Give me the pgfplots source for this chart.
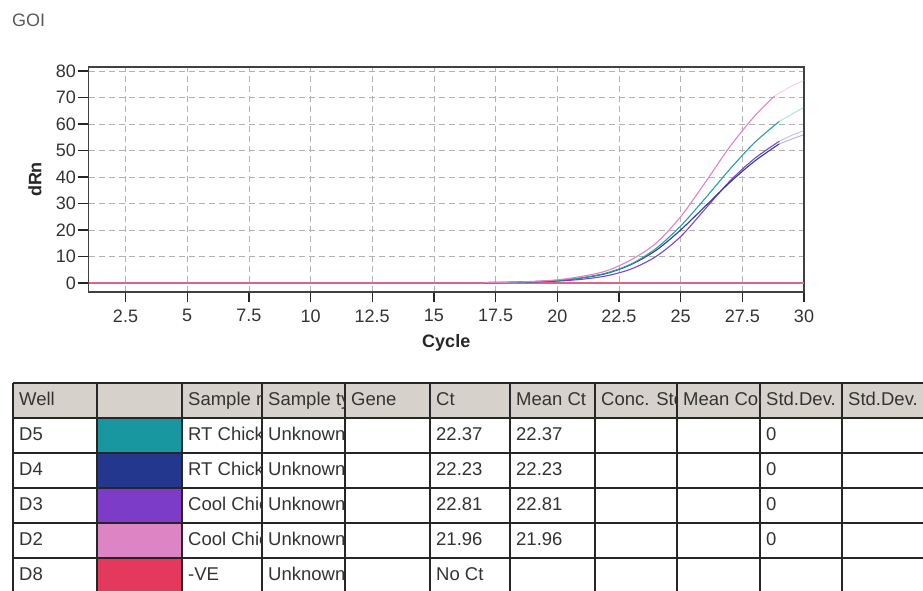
\documentclass[border=0pt]{standalone}
\usepackage{pgfplots}
\pgfplotsset{compat=1.18}
\usepackage{fontspec}
\setmainfont{Liberation Sans}
\definecolor{cteal}{RGB}{24,151,160}
\definecolor{cnavy}{RGB}{35,55,142}
\definecolor{cpurple}{RGB}{125,60,200}
\definecolor{cpink}{RGB}{220,132,196}
\definecolor{ccrimson}{RGB}{228,56,92}
\definecolor{lteal}{RGB}{40,160,160}
\definecolor{lnavy}{RGB}{45,58,140}
\definecolor{lpurple}{RGB}{120,70,200}
\definecolor{lpink}{RGB}{225,130,195}
\definecolor{lneg}{RGB}{222,100,135}
\definecolor{hdr}{RGB}{214,210,203}
\definecolor{tgray}{RGB}{51,51,51}
\newcommand\tcell[4]{\begin{scope}\clip (#1,-#3+17) rectangle (#2,-#3-17);
  \node[anchor=west, inner sep=0pt, text height=13pt, text depth=3pt, text=tgray] at (#1+6,-#3) {#4};\end{scope}}
\begin{document}
\begin{tikzpicture}[x=1pt,y=1pt]
\useasboundingbox (0,0) rectangle (923,-591);
\node[anchor=west, inner sep=0pt, text=black!65, font=\fontsize{18}{18}\selectfont] at (12,-20) {GOI};
\begin{axis}[
  at={(88.5pt,-292pt)}, anchor=south west,
  width=715.5pt, height=225pt, scale only axis,
  xmin=1, xmax=30, ymin=-3.4, ymax=81.5,
  xtick={2.5,5,7.5,10,12.5,15,17.5,20,22.5,25,27.5,30},
  ytick={0,10,20,30,40,50,60,70,80},
  xtick pos=bottom, ytick pos=left,
  tick align=outside, major tick length=10pt,
  tick style={draw=black!85, line width=1.3pt},
  axis line style={draw=black!75, line width=1.3pt},
  grid=major,
  grid style={draw=black!30, line width=0.6pt, dash pattern=on 6pt off 4pt},
  /pgf/number format/assume math mode=true,
  /pgf/number format/fixed,
  tick label style={font=\fontsize{18}{18}\selectfont, text=black!80},
  xticklabel style={yshift=-4pt},
  yticklabel style={xshift=1pt},
  xlabel={Cycle}, ylabel={dRn},
  every axis x label/.style={at={(axis description cs:0.5,0)}, anchor=center, yshift=-51pt, font=\bfseries\fontsize{18}{18}\selectfont, text=black!85},
  every axis y label/.style={at={(axis description cs:-0.0748,0.5)}, anchor=center, rotate=90, font=\bfseries\fontsize{18}{18}\selectfont, text=black!85},
]
% -VE
\addplot[lneg, line width=2.6pt] coordinates {(1,0)(30,0)};
% D3 purple
\addplot[lpurple, line width=1.1pt, smooth] coordinates {(17,0.1)(18,0.2)(19,0.4)(20,0.7)(21,1.4)(22,2.7)(23,5.3)(24,10)(25,17.5)(26,28)(27,38.5)(28,47)(29,53.5)};
\addplot[lpurple, line width=1pt, opacity=0.35, smooth] coordinates {(29,53.5)(29.5,55.7)(30,57.5)};
% D4 navy
\addplot[lnavy, line width=1.1pt, smooth] coordinates {(17,0.15)(18,0.25)(19,0.5)(20,0.9)(21,1.9)(22,3.6)(23,7)(24,12.3)(25,20)(26,29)(27,38)(28,46)(29,52.5)};
\addplot[lnavy, line width=1pt, opacity=0.35, smooth] coordinates {(29,52.5)(29.5,54.3)(30,56)};
% D5 teal
\addplot[lteal, line width=1.1pt, smooth] coordinates {(17,0.15)(18,0.25)(19,0.5)(20,1.0)(21,2.0)(22,3.8)(23,7.2)(24,13)(25,21.5)(26,32)(27,43)(28,53)(29,61)};
\addplot[lteal, line width=1pt, opacity=0.35, smooth] coordinates {(29,61)(29.5,63.7)(30,66.3)};
% D2 pink
\addplot[lpink, line width=1.1pt, smooth] coordinates {(17,0.2)(18,0.3)(19,0.6)(20,1.2)(21,2.5)(22,4.6)(23,8.8)(24,15)(25,25)(26,38)(27,51.5)(28,63)(28.8,70.5)};
\addplot[lpink, line width=1pt, opacity=0.35, smooth] coordinates {(28.8,70.5)(29.4,73.8)(30,76.5)};
\end{axis}
% ---- table ----
\fill[hdr] (13,-383) rectangle (930,-418);
\fill[cteal] (97,-418) rectangle (182,-453);
\fill[cnavy] (97,-453) rectangle (182,-488);
\fill[cpurple] (97,-488) rectangle (182,-523);
\fill[cpink] (97,-523) rectangle (182,-558);
\fill[ccrimson] (97,-558) rectangle (182,-595);
\begin{scope}[draw=black!85, line width=1.6pt]
\foreach \yy in {383,418,453,488,523,558} {\draw (13,-\yy) -- (930,-\yy);}
\foreach \xx in {13,97,182,262,345,430,510,595,677,760,842} {\draw (\xx,-383) -- (\xx,-595);}
\end{scope}
\begin{scope}[font=\fontsize{18.5}{18.5}\selectfont]
\tcell{13}{97}{400.5}{Well}
\tcell{182}{262}{400.5}{Sample name}
\tcell{262}{345}{400.5}{Sample type}
\tcell{345}{430}{400.5}{Gene}
\tcell{430}{510}{400.5}{Ct}
\tcell{510}{595}{400.5}{Mean Ct}
\tcell{595}{677}{400.5}{Conc. Std.}
\tcell{677}{760}{400.5}{Mean Conc.}
\tcell{760}{842}{400.5}{Std.Dev.}
\tcell{842}{923}{400.5}{Std.Dev.}
% rows
\tcell{13}{97}{435.5}{D5}
\tcell{182}{262}{435.5}{RT Chicken}
\tcell{262}{345}{435.5}{Unknown}
\tcell{430}{510}{435.5}{22.37}
\tcell{510}{595}{435.5}{22.37}
\tcell{760}{842}{435.5}{0}
\tcell{13}{97}{470.5}{D4}
\tcell{182}{262}{470.5}{RT Chicken}
\tcell{262}{345}{470.5}{Unknown}
\tcell{430}{510}{470.5}{22.23}
\tcell{510}{595}{470.5}{22.23}
\tcell{760}{842}{470.5}{0}
\tcell{13}{97}{505.5}{D3}
\tcell{182}{262}{505.5}{Cool Chicken}
\tcell{262}{345}{505.5}{Unknown}
\tcell{430}{510}{505.5}{22.81}
\tcell{510}{595}{505.5}{22.81}
\tcell{760}{842}{505.5}{0}
\tcell{13}{97}{540.5}{D2}
\tcell{182}{262}{540.5}{Cool Chicken}
\tcell{262}{345}{540.5}{Unknown}
\tcell{430}{510}{540.5}{21.96}
\tcell{510}{595}{540.5}{21.96}
\tcell{760}{842}{540.5}{0}
\tcell{13}{97}{575.5}{D8}
\tcell{182}{262}{575.5}{-VE}
\tcell{262}{345}{575.5}{Unknown}
\tcell{430}{510}{575.5}{No Ct}
\end{scope}
\end{tikzpicture}
\end{document}
